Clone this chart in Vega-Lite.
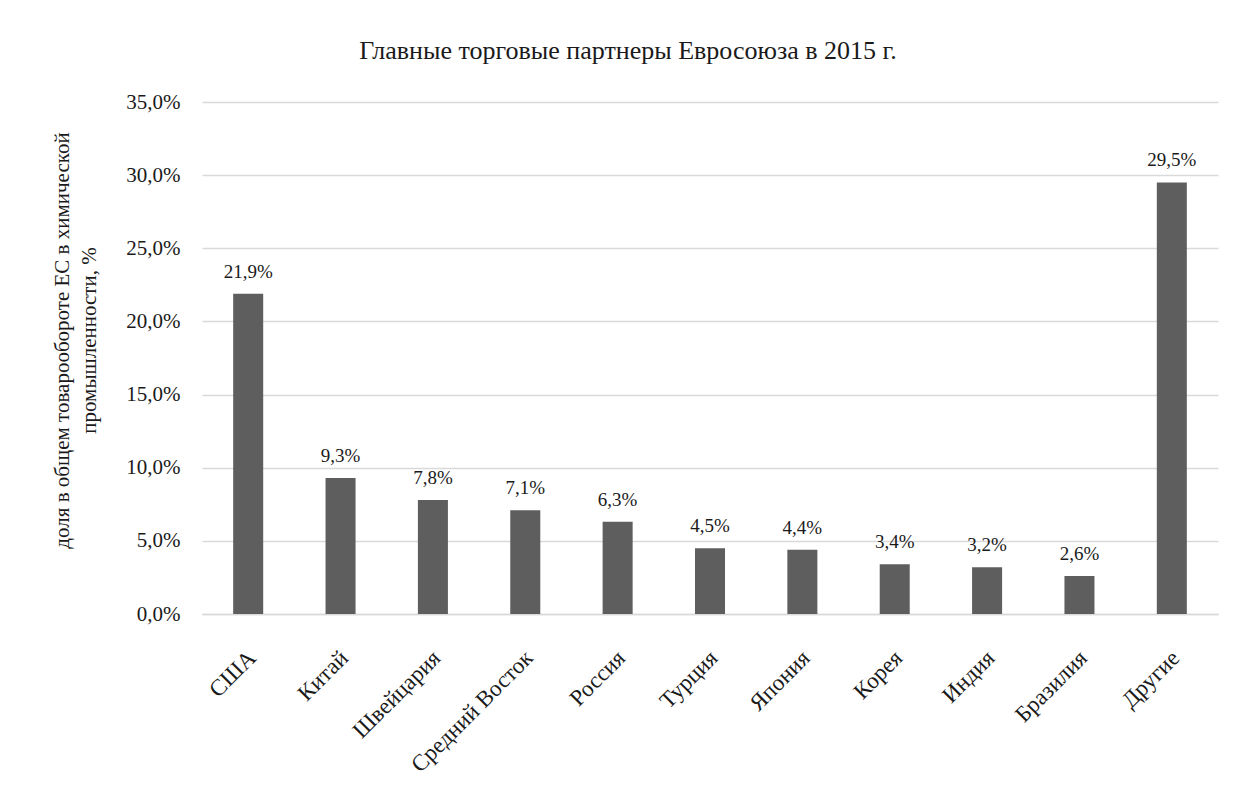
{
  "$schema": "https://vega.github.io/schema/vega-lite/v6.json",
  "autosize": "none",
  "width": 1016,
  "height": 512,
  "padding": {"left": 202, "top": 102, "right": 20, "bottom": 198},
  "background": "white",
  "config": {
    "locale": {"number": {"decimal": ",", "thousands": " ", "grouping": [3], "currency": ["", " ₽"]}},
    "view": {"stroke": null},
    "font": "Liberation Serif"
  },
  "title": {
    "text": "Главные торговые партнеры Евросоюза в 2015 г.",
    "font": "Liberation Serif",
    "fontSize": 26,
    "fontWeight": "normal",
    "color": "#1a1a1a",
    "anchor": "middle",
    "dx": -82,
    "offset": 27
  },
  "data": {
    "values": [
      {"country": "США", "share": 0.219},
      {"country": "Китай", "share": 0.093},
      {"country": "Швейцария", "share": 0.078},
      {"country": "Средний Восток", "share": 0.071},
      {"country": "Россия", "share": 0.063},
      {"country": "Турция", "share": 0.045},
      {"country": "Япония", "share": 0.044},
      {"country": "Корея", "share": 0.034},
      {"country": "Индия", "share": 0.032},
      {"country": "Бразилия", "share": 0.026},
      {"country": "Другие", "share": 0.295}
    ]
  },
  "encoding": {
    "x": {
      "field": "country",
      "type": "nominal",
      "sort": null,
      "scale": {"paddingInner": 0.675, "paddingOuter": 0.3375},
      "axis": {
        "title": null,
        "labelAngle": -45,
        "labelAlign": "right",
        "labelBaseline": "middle",
        "labelFont": "Liberation Serif",
        "labelFontSize": 23,
        "labelColor": "#1a1a1a",
        "labelPadding": 40,
        "labelOffset": 4,
        "ticks": false,
        "domainColor": "#d9d9d9",
        "domainWidth": 1.5,
        "grid": false
      }
    },
    "y": {
      "field": "share",
      "type": "quantitative",
      "scale": {"domain": [0, 0.35]},
      "axis": {
        "format": ".1%",
        "values": [0, 0.05, 0.1, 0.15, 0.2, 0.25, 0.3, 0.35],
        "title": ["доля в общем товарообороте ЕС в химической", "промышленности, %"],
        "titleFont": "Liberation Serif",
        "titleFontSize": 21,
        "titleFontWeight": "normal",
        "titleColor": "#1a1a1a",
        "titleAngle": -90,
        "titleAlign": "center",
        "titleBaseline": "top",
        "titleX": -151,
        "titleY": 238,
        "titleLineHeight": 27,
        "labelFont": "Liberation Serif",
        "labelFontSize": 21,
        "labelColor": "#1a1a1a",
        "labelPadding": 22,
        "ticks": false,
        "domain": false,
        "gridColor": "#d9d9d9",
        "gridWidth": 1.5
      }
    }
  },
  "layer": [
    {"mark": {"type": "bar", "color": "#5e5e5e"}},
    {
      "mark": {"type": "text", "baseline": "bottom", "dy": -12, "font": "Liberation Serif", "fontSize": 19, "color": "#1a1a1a"},
      "encoding": {"text": {"field": "share", "type": "quantitative", "format": ".1%"}}
    }
  ]
}
